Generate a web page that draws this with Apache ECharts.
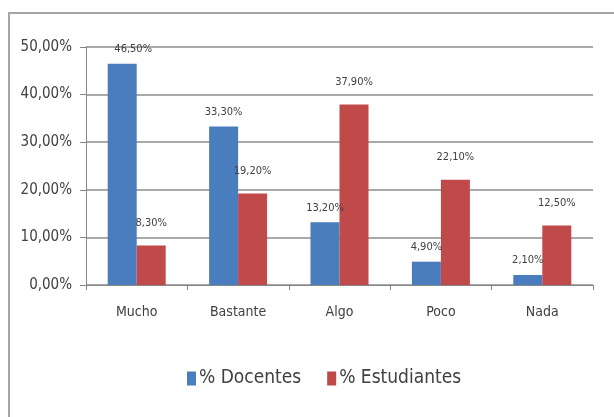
<!DOCTYPE html>
<html>
<head>
<meta charset="utf-8">
<script src="https://cdn.jsdelivr.net/npm/echarts@6/dist/echarts.min.js"></script>
<style>
  html, body { margin: 0; padding: 0; background: #ffffff; }
  #chart { width: 614px; height: 417px; }
</style>
</head>
<body>
<div id="chart"></div>
<script>
// Response categories and the share of each group (percent)
const categories = ['Mucho', 'Bastante', 'Algo', 'Poco', 'Nada'];
const docentes = [46.5, 33.3, 13.2, 4.9, 2.1];
const estudiantes = [8.3, 19.2, 37.9, 22.1, 12.5];
const seriesNames = ['% Docentes', '% Estudiantes'];

const FONT = '"Liberation Sans Narrow", "Arial Narrow", "DejaVu Sans Condensed", sans-serif';
const TEXT = '#404040';

// Spanish-style percentage with two decimals, e.g. 46,50%
const pct = v => v.toFixed(2).replace('.', ',') + '%';

const chart = echarts.init(document.getElementById('chart'), null, { renderer: 'canvas' });

chart.setOption({
  animation: false,
  backgroundColor: '#ffffff',
  graphic: [{
    type: 'rect',
    shape: { x: 9, y: 13, width: 700, height: 500 },
    style: { fill: 'none', stroke: '#a6a6a6', lineWidth: 2 },
    silent: true
  }],
  grid: { left: 86, right: 21, top: 47, bottom: 132 },
  legend: {
    data: seriesNames,
    top: 364,
    left: 182,
    itemWidth: 9,
    itemHeight: 14,
    itemGap: 26,
    icon: 'rect',
    textStyle: { fontFamily: FONT, fontSize: 19, color: TEXT, padding: [0, 0, 0, -2] }
  },
  xAxis: {
    type: 'category',
    data: categories,
    axisLine: { lineStyle: { color: '#868686', width: 1 } },
    axisTick: { show: true, length: 5, lineStyle: { color: '#868686' } },
    axisLabel: { fontFamily: FONT, fontSize: 14, color: TEXT, margin: 20 }
  },
  yAxis: {
    type: 'value',
    min: 0,
    max: 50,
    interval: 10,
    axisLine: { show: true, lineStyle: { color: '#868686', width: 1 } },
    axisTick: { show: true, length: 6, lineStyle: { color: '#868686' } },
    splitLine: { lineStyle: { color: '#8c8c8c', width: 1.5 } },
    axisLabel: { fontFamily: FONT, fontSize: 15, color: TEXT, margin: 14, formatter: v => pct(v) }
  },
  series: [
    {
      name: seriesNames[0],
      type: 'bar',
      data: docentes.map((v, i) => i === 0
        ? { value: v, label: { offset: [11, 0] } }
        : v),
      barWidth: 29,
      barGap: '0%',
      itemStyle: { color: '#4a7dbe' },
      label: {
        show: true, position: 'top', distance: 9,
        fontFamily: FONT, fontSize: 11, color: TEXT,
        formatter: p => pct(p.value)
      }
    },
    {
      name: seriesNames[1],
      type: 'bar',
      data: estudiantes,
      barWidth: 29,
      barGap: '0%',
      itemStyle: { color: '#c0494a' },
      label: {
        show: true, position: 'top', distance: 17,
        fontFamily: FONT, fontSize: 11, color: TEXT,
        formatter: p => pct(p.value)
      }
    }
  ]
});
</script>
</body>
</html>
